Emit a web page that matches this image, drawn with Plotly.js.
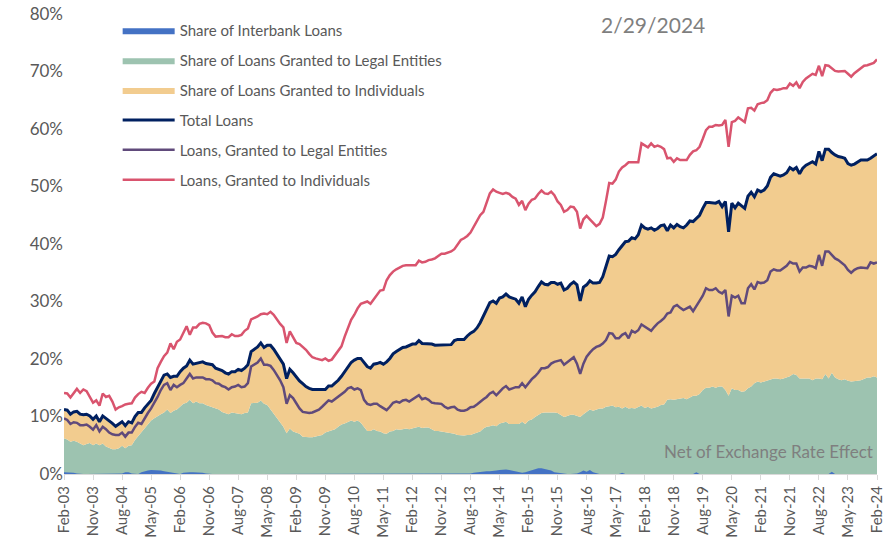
<!DOCTYPE html>
<html>
<head>
<meta charset="utf-8">
<script src="https://cdn.plot.ly/plotly-3.0.1.min.js"></script>
<style>
html,body{margin:0;padding:0;background:#fff;}
#chart{width:886px;height:545px;}
</style>
</head>
<body>
<div id="chart"></div>
<script>
// Monthly series, Feb-03 .. Feb-24 (253 months), % values
const totalLoans = [
11.2,11.1,10.4,10.8,10.9,10.4,10.3,10.4,10.1,9.5,
10.1,9.1,10.1,9.7,9.3,8.8,8.3,8.7,9.1,8.4,
9.1,8.9,10.0,10.7,10.7,11.5,12.2,12.8,14.0,15.1,
16.2,17.2,17.4,16.8,17.0,17.0,17.8,18.4,18.8,19.8,
19.1,19.2,19.4,
19.5,19.2,19.1,19.0,18.4,18.2,18.0,17.6,17.4,17.8,
17.8,18.2,18.0,18.4,19.0,21.3,21.7,22.1,22.8,22.0,
22.4,22.4,21.7,20.9,20.1,19.1,16.6,18.2,17.6,16.8,
16.2,15.7,15.2,14.9,14.7,14.7,14.7,14.8,14.7,15.3,
15.3,15.8,16.3,17.0,17.8,
18.8,19.4,19.8,20.1,20.1,19.4,18.7,18.4,19.1,19.2,
19.4,19.1,19.5,20.1,20.9,21.3,21.6,22.0,22.1,22.4,
22.6,22.6,23.2,22.7,22.7,22.6,22.6,22.4,22.4,22.4,
22.5,22.5,22.5,23.2,23.4,23.4,23.4,24.0,24.5,24.8,
25.4,26.3,
27.4,28.5,29.8,30.1,29.7,30.6,30.8,31.3,30.8,30.6,
30.4,29.7,30.8,29.1,30.4,31.1,31.7,32.6,33.4,33.0,
32.9,33.3,33.3,33.0,33.2,32.0,32.3,33.0,33.4,32.9,
30.1,32.5,32.9,33.6,33.2,33.2,33.3,34.3,36.1,37.9,
37.8,38.2,
39.0,39.8,40.4,40.5,41.1,40.9,41.6,43.3,42.8,42.6,
42.8,42.4,42.7,43.2,43.3,42.3,43.3,42.8,43.4,43.0,
42.8,43.3,44.0,43.9,44.5,45.0,46.2,47.2,47.2,47.2,
47.1,47.4,46.5,47.4,42.1,47.1,46.3,47.1,46.7,46.2,
48.3,49.0,
48.2,49.4,49.1,49.4,50.1,51.6,52.2,52.0,51.8,52.0,
52.4,53.3,52.9,53.3,52.2,53.2,53.7,54.0,54.3,53.9,
56.1,54.5,56.5,56.5,55.9,55.5,55.2,55.1,54.9,54.0,
53.7,53.9,54.3,54.6,54.6,54.6,54.9,55.3,55.7
];
const legalLoans = [
9.7,9.4,8.7,9.0,8.9,8.5,8.5,8.6,8.2,7.7,
8.5,7.4,8.2,7.8,7.2,6.9,6.8,6.8,7.2,6.5,
7.2,7.2,8.2,8.9,8.7,9.7,10.6,11.4,12.3,13.4,
14.6,15.5,15.8,14.6,15.5,15.1,15.5,15.8,16.6,17.4,
16.6,16.8,16.8,
16.8,16.5,16.5,16.3,15.8,15.7,15.3,15.1,14.7,15.1,
15.2,15.5,15.1,15.2,15.8,18.7,19.0,19.4,20.1,19.0,
19.0,18.8,18.1,17.2,16.3,15.1,12.2,13.7,13.2,12.3,
11.4,10.8,10.7,10.6,10.7,11.0,11.2,11.7,12.2,12.8,
12.6,13.0,13.4,13.8,14.3,
14.9,15.1,14.7,14.9,14.6,12.9,12.2,12.0,12.2,12.2,
11.8,11.4,11.1,11.7,12.4,12.6,12.4,12.8,12.9,12.6,
13.0,13.4,13.7,13.0,13.2,12.9,12.4,12.3,12.2,12.2,
11.7,11.4,11.6,11.7,11.2,11.0,11.0,11.2,11.6,11.7,
12.1,12.6,
13.0,13.4,14.0,14.3,13.7,14.3,14.9,15.3,14.7,14.9,
15.1,15.1,15.8,15.1,15.9,16.5,17.0,17.6,18.4,18.4,
18.6,19.2,19.5,19.7,19.8,19.0,19.4,19.9,20.3,19.2,
17.4,19.2,20.4,21.1,21.7,22.1,22.3,22.7,23.3,24.5,
24.4,23.6,
23.6,24.2,24.5,23.6,24.9,24.6,25.0,26.0,25.6,25.2,
24.9,25.6,26.2,26.6,27.1,27.9,28.1,29.1,29.4,28.9,
28.5,28.8,29.1,28.3,29.3,30.1,31.0,32.3,32.0,32.0,
32.3,31.7,31.4,32.0,27.4,31.0,30.7,31.0,29.7,29.7,
32.3,33.0,
32.1,33.4,33.2,33.3,33.7,35.2,35.6,35.4,35.4,35.8,
36.2,36.9,36.6,36.6,35.2,35.9,35.9,36.2,36.1,35.8,
38.1,36.2,38.7,38.7,38.1,37.5,37.2,36.8,36.3,35.5,
35.0,35.5,35.8,35.9,35.9,35.8,36.8,36.6,36.8
];
const individualLoans = [
14.1,14.0,13.3,14.0,14.8,14.1,14.7,14.4,13.4,12.4,
12.8,11.9,14.0,13.4,13.6,12.6,11.2,11.6,11.8,12.1,
12.2,12.3,13.3,13.9,14.3,14.1,15.0,15.7,16.1,18.4,
19.5,20.5,21.1,22.7,21.7,23.0,23.4,24.5,25.7,24.2,
25.5,25.5,26.1,26.3,
26.2,25.9,24.6,23.9,23.9,24.0,23.8,23.8,24.3,24.0,
24.0,24.2,24.9,25.3,26.9,27.1,27.4,27.8,27.9,27.8,
28.2,27.7,26.8,26.1,25.5,22.8,24.8,23.9,22.8,22.6,
22.1,21.6,20.9,20.3,20.1,19.9,19.8,20.1,19.7,19.9,
20.7,21.6,22.2,23.9,
25.3,26.8,27.7,28.8,29.6,29.8,30.0,29.6,30.4,31.1,
31.9,32.0,33.7,34.6,35.2,35.6,35.9,36.2,36.3,36.3,
36.4,36.3,37.1,36.8,36.9,37.2,37.3,37.5,37.9,38.3,
38.3,38.5,38.7,39.1,39.8,40.7,41.0,41.4,42.0,43.0,
43.8,45.0,
45.6,47.2,48.8,49.5,49.1,48.9,48.7,48.9,48.7,48.2,
47.9,46.8,47.5,45.9,47.0,47.7,47.9,48.7,49.3,48.8,
48.7,49.1,48.5,47.4,46.8,45.6,45.9,46.5,46.4,45.6,
42.7,44.3,44.9,44.3,43.7,43.1,43.5,44.6,47.5,50.6,
50.5,51.2,
52.6,53.3,53.7,54.2,54.2,54.2,54.2,57.5,57.1,56.8,
57.5,56.9,57.1,56.9,56.5,54.9,55.0,54.3,54.9,54.6,
54.6,54.6,55.5,56.1,56.3,56.9,58.3,59.8,60.4,60.4,
60.7,60.6,60.7,61.6,56.9,61.2,61.4,62.0,61.6,61.2,
63.6,63.7,
63.2,64.3,64.5,64.6,65.0,66.3,66.9,66.8,66.9,67.1,
67.1,67.9,67.5,68.1,67.1,68.2,68.8,69.2,69.6,69.4,
71.0,69.2,71.1,71.0,70.6,70.1,70.0,70.0,70.1,69.6,
69.1,69.7,70.1,70.6,71.0,71.1,71.3,71.5,72.1
];
const shareLegal = [
6.2,6.0,5.6,5.8,5.6,5.3,5.0,5.2,5.4,5.0,
5.3,5.0,5.3,4.8,4.5,4.3,4.3,4.5,4.9,4.5,
4.9,5.0,5.9,6.6,7.4,7.9,8.7,9.3,9.7,10.1,
10.4,10.7,11.2,10.6,11.0,11.2,11.7,12.2,12.4,12.9,
12.3,12.6,12.3,
12.3,12.0,11.8,11.7,11.4,11.2,10.8,10.6,10.4,10.7,
10.6,10.6,10.4,10.6,10.7,12.3,12.4,12.4,12.8,12.2,
12.0,11.2,10.6,9.7,8.9,8.2,7.1,7.9,7.4,7.2,
7.0,6.5,6.4,6.4,6.4,6.5,6.6,6.8,7.2,7.4,
7.7,7.8,8.2,8.6,8.8,
9.1,9.3,9.1,9.3,8.9,8.1,7.5,7.5,7.8,7.5,
7.4,7.1,7.0,7.4,7.5,7.8,7.7,7.8,7.9,7.8,
8.0,8.1,8.2,8.0,8.1,8.1,7.8,7.5,7.5,7.4,
7.4,7.2,7.1,7.0,6.8,6.7,6.7,6.8,6.8,7.0,
7.2,7.4,
7.9,8.2,8.3,8.5,8.3,8.8,8.9,9.1,8.7,8.7,
8.7,8.7,9.1,8.7,9.3,9.5,9.9,10.3,10.6,10.7,
10.7,10.8,10.7,10.6,10.3,9.9,10.1,10.3,10.3,10.1,
9.9,10.4,10.8,11.2,11.0,11.2,11.4,11.4,11.7,11.8,
11.9,11.6,
11.7,11.4,11.7,11.4,11.5,11.4,11.7,11.9,11.5,11.7,
11.4,11.5,11.7,12.0,12.1,12.9,13.0,12.9,13.0,13.2,
13.2,13.0,13.3,13.6,13.6,13.9,14.6,15.0,15.0,15.2,
15.0,15.2,15.2,14.6,13.6,14.9,14.6,14.6,14.3,14.4,
14.9,15.2,
15.8,16.1,15.9,16.1,16.3,16.5,16.6,16.6,16.5,16.6,
16.8,17.0,17.4,17.2,16.6,16.6,16.5,16.6,16.3,16.6,
16.6,16.5,17.4,16.6,17.6,16.8,16.5,16.3,16.5,16.2,
16.1,16.1,16.2,16.3,16.6,16.8,16.8,17.0,16.8
];
const shareInterbank = [
0.3,0.3,0.2,0.2,0.1,0,0,0,0,0,
0,0,0,0,0,0,0,0,0.1,0.3,
0.3,0.1,0,0,0.3,0.5,0.6,0.7,0.7,0.6,
0.6,0.5,0.4,0.2,0.1,0,0,0.2,0.3,0.3,
0.3,0.3,0.2,0.2,0.1,0,0,0,0,0,
0,0,0,0,0,0,0,0,0,0,
0,0,0,0,0,0,0,0,0,0,
0,0,0,0,0,0,0,0,0,0,
0,0,0,0,0,0,0,0,0,0,
0,0,0,0,0,0,0,0,0,0,
0,0,0,0,0,0,0,0,0,0,
0,0,0,0,0,0,0,0,0,0,
0,0,0,0,0,0,0.1,0.2,0.3,0.4,
0.4,0.5,0.5,0.5,0.6,0.7,0.8,0.8,0.7,0.6,
0.4,0.3,0.2,0.3,0.5,0.7,0.9,1.0,1.0,0.9,
0.8,0.6,0.3,0.2,0.1,0,0,0,0,0.1,
0.3,0.6,0.4,0.7,0.3,0.1,0,0,0,0,
0,0,0,0.2,0,0,0,0,0,0,
0,0,0,0,0,0,0,0,0,0,
0,0,0,0,0,0,0.3,0,0,0,
0,0,0,0,0,0,0,0,0,0,
0,0,0,0,0,0,0,0,0,0,
0,0,0,0,0,0,0,0,0,0,
0,0,0,0,0,0,0,0,0.4,0,
0,0,0,0,0,0,0,0,0,0,0,0,0
];
const monthNames = ['Jan','Feb','Mar','Apr','May','Jun','Jul','Aug','Sep','Oct','Nov','Dec'];
const tickLabels = ['Feb-03','Nov-03','Aug-04','May-05','Feb-06','Nov-06','Aug-07','May-08','Feb-09','Nov-09','Aug-10','May-11','Feb-12','Nov-12','Aug-13','May-14','Feb-15','Nov-15','Aug-16','May-17','Feb-18','Nov-18','Aug-19','May-20','Feb-21','Nov-21','Aug-22','May-23','Feb-24'];

const months = [];
for (let i = 0; i < totalLoans.length; i++) {
  const mi = (1 + i) % 12;
  const yr = 2003 + Math.floor((1 + i) / 12);
  months.push(monthNames[mi] + '-' + String(yr % 100).padStart(2, '0'));
}

const FONT = 'Lato, "Open Sans", sans-serif';
const GREY = '#595959';

const traces = [
  {x: months, y: shareLegal, name: 'Share of Loans Granted to Legal Entities', type: 'scatter', mode: 'lines',
   fill: 'tozeroy', fillcolor: '#9dc3b0', line: {width: 0, color: '#9dc3b0'}, legendrank: 2, legendgroup: 'g2'},
  {x: months, y: totalLoans, name: 'Share of Loans Granted to Individuals', type: 'scatter', mode: 'lines',
   fill: 'tonexty', fillcolor: '#f2cc8f', line: {width: 0, color: '#f2cc8f'}, legendrank: 3, legendgroup: 'g3'},
  {x: months, y: shareInterbank, name: 'Share of Interbank Loans', type: 'scatter', mode: 'lines',
   fill: 'tozeroy', fillcolor: '#4472c4', line: {width: 0, color: '#4472c4'}, legendrank: 1, legendgroup: 'g1'},
  {x: months, y: totalLoans, name: 'Total Loans', type: 'scatter', mode: 'lines',
   line: {width: 3, color: '#002060'}, legendrank: 4, legendgroup: 'g4'},
  {x: months, y: legalLoans, name: 'Loans, Granted to Legal Entities', type: 'scatter', mode: 'lines',
   line: {width: 2.5, color: '#604a7b'}, legendrank: 5, legendgroup: 'g5'},
  {x: months, y: individualLoans, name: 'Loans, Granted to Individuals', type: 'scatter', mode: 'lines',
   line: {width: 2.5, color: '#d9546e'}, legendrank: 6, legendgroup: 'g6'}
];

const layout = {
  width: 886, height: 545,
  margin: {l: 64, r: 9, t: 14, b: 71},
  paper_bgcolor: '#ffffff', plot_bgcolor: '#ffffff',
  font: {family: FONT, color: GREY, size: 15},
  showlegend: true,
  legend: {x: 0.066, y: 1.0, xanchor: 'left', yanchor: 'top', bgcolor: 'rgba(0,0,0,0)',
           font: {family: FONT, size: 15, color: GREY}, tracegroupgap: 7.4, itemwidth: 52},
  xaxis: {type: 'category', range: [0, totalLoans.length - 1], tickmode: 'array', tickvals: tickLabels,
          tickangle: -90, tickfont: {family: FONT, size: 15, color: GREY}, showgrid: false,
          showline: true, linecolor: '#d9d9d9', linewidth: 1, ticks: 'outside', ticklen: 5,
          tickcolor: '#d9d9d9', zeroline: false, fixedrange: true},
  yaxis: {range: [0, 80], dtick: 10, ticksuffix: '%', showgrid: false, zeroline: false, showline: false,
          tickfont: {family: FONT, size: 17, color: GREY}, ticks: '', fixedrange: true},
  annotations: [
    {text: '2/29/2024', xref: 'paper', yref: 'paper', x: 0.724, y: 0.978, xanchor: 'center', yanchor: 'middle',
     showarrow: false, font: {family: FONT, size: 21, color: '#7f7f7f'}},
    {text: 'Net of Exchange Rate Effect', xref: 'paper', yref: 'paper', x: 0.997, y: 0.048, xanchor: 'right', yanchor: 'middle',
     showarrow: false, font: {family: FONT, size: 17, color: '#7f7f7f'}}
  ]
};

Plotly.newPlot('chart', traces, layout, {displayModeBar: false, staticPlot: true});
</script>
</body>
</html>
